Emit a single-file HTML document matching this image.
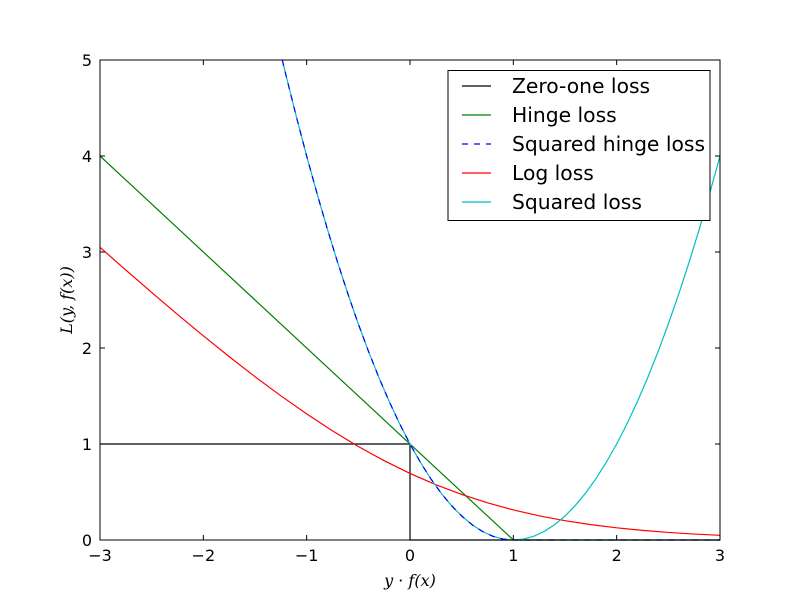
<!DOCTYPE html>
<html><head><meta charset="utf-8">
<style>
html,body{margin:0;padding:0;background:#fff;}
svg text{font-family:"DejaVu Sans","Liberation Sans",sans-serif;}
</style></head>
<body>
<svg id="chart" width="800" height="600" xmlns="http://www.w3.org/2000/svg">
<rect x="0" y="0" width="800" height="600" fill="#fff"/>
<g id="series"></g>
<g id="axes"></g>
<text x="410" y="586" text-anchor="middle" font-size="16" font-style="italic" style="font-family:'DejaVu Serif','Liberation Serif',serif">y · f(x)</text>
<text transform="translate(72,300) rotate(-90)" text-anchor="middle" font-size="16" font-style="italic" style="font-family:'DejaVu Serif','Liberation Serif',serif">L(y, f(x))</text>
<g id="legend"></g>
</svg>
<script>
const xTicks=[-3,-2,-1,0,1,2,3];
const yTicks=[0,1,2,3,4,5];
const xTickLabels=["\u22123","\u22122","\u22121","0","1","2","3"];
const yTickLabels=["0","1","2","3","4","5"];
const zeroOneX=[-3,0,0,3];
const zeroOneY=[1,1,0,0];
const hingeX=[-3,1,3];
const hingeY=[4,0,0];
const sqX=[-1.236,-1.2,-1.1,-1,-0.9,-0.8,-0.7,-0.6,-0.5,-0.4,-0.3,-0.2,-0.1,0,0.1,0.2,0.3,0.4,0.5,0.6,0.7,0.8,0.9,1];
const sqHingeY=[5,4.84,4.41,4,3.61,3.24,2.89,2.56,2.25,1.96,1.69,1.44,1.21,1,0.81,0.64,0.49,0.36,0.25,0.16,0.09,0.04,0.01,0];
const sqHingeTailX=[1,3];
const sqHingeTailY=[0,0];
const sqLossTailX=[1.1,1.2,1.3,1.4,1.5,1.6,1.7,1.8,1.9,2,2.1,2.2,2.3,2.4,2.5,2.6,2.7,2.8,2.9,3];
const sqLossTailY=[0.01,0.04,0.09,0.16,0.25,0.36,0.49,0.64,0.81,1,1.21,1.44,1.69,1.96,2.25,2.56,2.89,3.24,3.61,4];
const logX=[-3,-2.75,-2.5,-2.25,-2,-1.75,-1.5,-1.25,-1,-0.75,-0.5,-0.25,0,0.25,0.5,0.75,1,1.25,1.5,1.75,2,2.25,2.5,2.75,3];
const logY=[3.0486,2.812,2.579,2.350,2.127,1.910,1.701,1.502,1.3133,1.1369,0.9741,0.8259,0.6931,0.5759,0.4741,0.3869,0.3133,0.2519,0.2014,0.1602,0.1269,0.1002,0.0789,0.0620,0.0486];
const legendLabels=["Zero-one loss","Hinge loss","Squared hinge loss","Log loss","Squared loss"];

const NS="http://www.w3.org/2000/svg";
const L=100,R=720,T=60,B=540;
const sx=v=>L+(v-(-3))/6*(R-L);
const sy=v=>B-(v/5)*(B-T);
function mk(tag,attrs,parent){const e=document.createElementNS(NS,tag);for(const k in attrs)e.setAttribute(k,attrs[k]);parent.appendChild(e);return e;}
const series=document.getElementById('series');
function line(xs,ys,color,name,dash){
  const d=xs.map((x,i)=>(i?'L':'M')+sx(x).toFixed(2)+','+sy(ys[i]).toFixed(2)).join(' ');
  const p=mk('path',{d:d,fill:'none',stroke:color,'stroke-width':1.2},series);
  if(dash)p.setAttribute('stroke-dasharray',dash);
  
  
}
line(zeroOneX,zeroOneY,'#000','zero-one-loss-line');
line(hingeX,hingeY,'#008000','hinge-loss-line');
line(logX,logY,'#ff0000','log-loss-line');
line(sqX.concat(sqLossTailX),sqHingeY.concat(sqLossTailY),'#00bfbf','squared-loss-line');
line(sqX.concat(sqHingeTailX),sqHingeY.concat(sqHingeTailY),'#0000ff','squared-hinge-loss-line','6,6');

const axes=document.getElementById('axes');
const fr=mk('rect',{x:L,y:T,width:R-L,height:B-T,fill:'none',stroke:'#000','stroke-width':1},axes);


xTicks.forEach((v,i)=>{
  const x=sx(v);
  mk('line',{x1:x,y1:B,x2:x,y2:B-5,stroke:'#000'},axes);
  mk('line',{x1:x,y1:T,x2:x,y2:T+5,stroke:'#000'},axes);
  const t=mk('text',{x:x,y:B+21,'text-anchor':'middle','font-size':16},axes);
  t.textContent=xTickLabels[i];
  
  
});
yTicks.forEach((v,i)=>{
  const y=sy(v);
  mk('line',{x1:L,y1:y,x2:L+5,y2:y,stroke:'#000'},axes);
  mk('line',{x1:R,y1:y,x2:R-5,y2:y,stroke:'#000'},axes);
  const t=mk('text',{x:L-8,y:y+6,'text-anchor':'end','font-size':16},axes);
  t.textContent=yTickLabels[i];
  
  
});

const lg=document.getElementById('legend');
const box=mk('rect',{x:448,y:70.5,width:262,height:150,fill:'#fff',stroke:'#000','stroke-width':1},lg);


const lcolors=['#000','#008000','#0000ff','#ff0000','#00bfbf'];
legendLabels.forEach((lab,i)=>{
  const y=86+i*29;
  const ln=mk('line',{x1:462,y1:y,x2:491,y2:y,stroke:lcolors[i],'stroke-width':1.2},lg);
  if(i===2)ln.setAttribute('stroke-dasharray','6,6');
  
  
  const t=mk('text',{x:512,y:y+7,'font-size':20.3},lg);
  t.textContent=lab;
  
  
});
</script>
</body></html>
